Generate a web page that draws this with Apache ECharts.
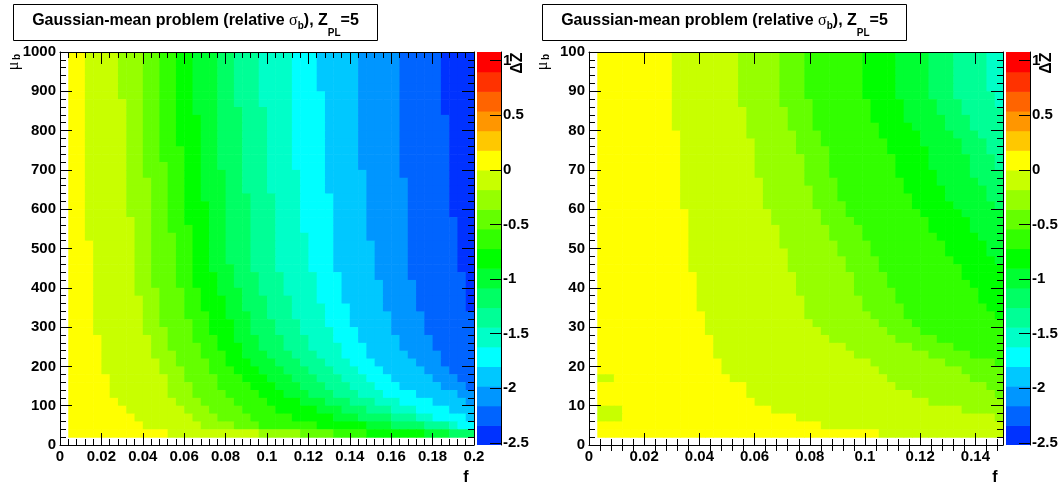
<!DOCTYPE html>
<html>
<head>
<meta charset="utf-8">
<script src="https://cdn.jsdelivr.net/npm/echarts@6/dist/echarts.min.js"></script>
<style>
html,body{margin:0;padding:0;background:#ffffff;}
#chart{width:1062px;height:488px;}
</style>
</head>
<body>
<div id="chart"></div>
<script>
// ---------------- data ----------------
const zMin = -2.52;
const zMax = 1.08;
const zStep = 0.18;
const zTickValues = [-2.5, -2, -1.5, -1, -0.5, 0, 0.5, 1];
const paletteColors = ['#0032ff','#0064ff','#0096ff','#00c8ff','#00ffff','#00ffc8','#00ff96','#00ff64','#00ff32','#00ff00',
                       '#32ff00','#64ff00','#96ff00','#c8ff00','#ffff00','#ffc800','#ff9600','#ff6400','#ff3200','#ff0000'];

const leftXBin = 0.004;   // f bin width, left panel
const leftYBin = 20;      // mu_b bin width, left panel
const rightXBin = 0.003;
const rightYBin = 2;
const nBins = 50;

const rightXTicks = [0, 0.02, 0.04, 0.06, 0.08, 0.1, 0.12, 0.14];
const rightXMinor = [0.004,0.008,0.012,0.016,0.024,0.028,0.032,0.036,0.044,0.048,0.052,0.056,0.064,0.068,0.072,0.076,
                     0.084,0.088,0.092,0.096,0.104,0.108,0.112,0.116,0.124,0.128,0.132,0.136,0.144,0.148];

// Each row (top row first, mu_b bin 49 down to bin 1) lists the f-bin index
// where the colour level drops to level 13, 12, 11, ... (level 14 = yellow at left).
const leftRows = [
"3,7,10,12,14,16,19,21,24,28,31,36,41,46",
"3,7,10,12,14,16,19,21,24,28,31,36,41,46",
"3,7,10,12,14,16,19,21,24,28,31,36,41,46",
"3,7,10,12,14,16,19,21,24,28,31,36,41,46",
"3,7,10,12,14,16,19,21,24,28,31,36,41,46",
"3,7,10,12,14,16,19,21,24,28,32,36,41,46",
"3,8,10,12,14,16,19,21,24,28,32,36,41,46",
"3,8,10,12,14,16,19,22,25,28,32,36,41,46",
"3,8,10,12,14,17,19,22,25,28,32,36,41,47",
"3,8,10,12,14,17,19,22,25,28,32,36,41,47",
"3,8,10,12,14,17,19,22,25,28,32,36,41,47",
"3,8,10,12,14,17,19,22,25,28,32,36,41,47",
"3,8,10,12,15,17,19,22,25,28,32,36,41,47",
"3,8,10,12,15,17,19,22,25,28,32,36,41,47",
"3,8,10,13,15,17,19,22,25,28,32,36,41,47",
"3,8,10,13,15,17,20,22,25,29,32,37,41,47",
"3,8,11,13,15,17,20,22,25,29,32,37,42,47",
"3,8,11,13,15,17,20,22,25,29,32,37,42,47",
"3,8,11,13,15,17,20,23,26,29,33,37,42,47",
"3,8,11,13,15,18,20,23,26,29,33,37,42,47",
"3,8,11,13,15,18,20,23,26,29,33,37,42,47",
"3,9,11,13,15,18,20,23,26,29,33,37,42,48",
"3,9,11,13,16,18,20,23,26,29,33,37,42,48",
"3,9,11,14,16,18,20,23,26,30,33,37,42,48",
"4,9,11,14,16,18,20,23,26,30,33,38,42,48",
"4,9,11,14,16,18,20,23,26,30,33,38,42,48",
"4,9,11,14,16,18,20,23,26,30,33,38,42,48",
"4,9,11,14,16,18,21,23,26,30,33,38,42,48",
"4,9,11,14,16,19,21,24,27,31,34,38,42,49",
"4,9,11,14,16,19,21,24,27,31,34,39,43,49",
"4,9,12,15,17,19,22,24,27,31,34,39,43,49",
"4,10,12,15,17,20,22,25,28,31,34,39,43,49",
"4,10,12,15,17,20,22,25,28,32,35,39,43,49",
"4,10,12,15,18,20,23,25,28,32,35,40,44",
"4,10,12,16,18,21,23,26,29,32,35,40,44",
"4,10,13,16,18,21,23,26,29,33,36,40,44",
"5,11,13,16,19,21,24,27,30,33,36,41,45",
"5,11,13,17,19,22,24,27,30,34,37,41,45",
"5,11,14,17,20,22,25,28,31,34,37,42,46",
"5,12,14,18,20,23,26,29,32,35,38,43,46",
"5,12,15,18,21,24,27,30,33,36,39,44,47",
"6,13,15,19,22,25,28,31,34,37,40,45,48",
"6,13,16,19,23,26,29,32,35,38,41,46,49",
"6,13,16,20,24,27,30,33,36,39,43,48",
"7,14,17,21,25,29,32,35,38,41,45,49",
"8,15,18,22,26,31,34,37,40,43,47",
"9,16,19,23,28,33,36,40,43,45,49",
"10,17,21,24,31,37,40,44,47,48",
"13,24,29,33,37,44,47"
];

const rightRows = [
"10,18,23,26,33,37,41,44,48",
"10,18,23,26,33,37,41,44,48",
"10,18,23,26,33,37,41,44,48",
"10,18,23,26,33,37,41,44,48",
"10,18,23,26,33,37,41,44,48",
"10,18,23,26,33,37,41,44,49",
"10,18,23,27,34,38,42,45,49",
"10,19,24,27,34,38,42,45",
"10,19,24,27,34,38,43,46",
"10,19,24,27,35,39,43,46",
"11,19,25,28,35,40,44,47",
"11,20,25,28,36,40,45,48",
"11,20,25,29,36,41,45,48",
"11,20,26,29,37,41,46,49",
"11,20,26,29,37,41,46,49",
"11,20,26,29,37,42,46",
"11,21,26,30,38,42,47",
"11,21,27,30,38,43,48",
"11,21,27,30,39,43,48",
"11,21,27,31,39,44,49",
"12,22,28,31,40,45",
"12,22,28,32,41,46",
"12,23,29,33,41,46",
"12,23,29,33,42,47",
"12,23,30,34,43,48",
"12,24,30,34,43,48",
"12,24,31,35,44,49",
"12,24,31,35,45",
"13,25,32,36,45",
"13,25,32,36,46",
"13,25,32,37,47",
"13,26,33,37,47",
"13,26,33,38,48",
"14,26,34,38,49",
"14,27,35,39",
"14,28,36,40",
"15,29,37,42",
"15,31,39,44",
"15,32,41,46",
"16,34,43,49",
"16,35,45",
"17,36,46",
"19,37,48",
"19,39,49",
"20,41",
"22,45",
"25,49",
"28",
"35"
];
// single cells that break the pattern: [f bin, mu_b bin, level]
const leftOddCells = [];
const rightOddCells = [[1,8,13],[2,8,13],[1,4,13],[2,4,13],[3,4,13],[1,3,13],[2,3,13],[3,3,13]];

// ---------------- build ----------------
function levelValue(k) { return zMin + zStep * (k + 0.5); }
function buildCells(rows, xBin, yBin, odd) {
  const cells = [];
  const nRows = rows.length;
  const lookup = {};
  odd.forEach(c => { lookup[c[0] + '_' + c[1]] = c[2]; });
  rows.forEach((str, r) => {
    const j = nRows - r;
    const starts = str.split(',').map(Number);
    for (let i = 1; i < nBins; i++) {
      let k = 14;
      starts.forEach(s => { if (s <= i) k--; });
      const key = i + '_' + j;
      if (key in lookup) k = lookup[key];
      cells.push([i * xBin, (i + 1) * xBin, j * yBin, (j + 1) * yBin, levelValue(k)]);
    }
  });
  return cells;
}
const leftCells = buildCells(leftRows, leftXBin, leftYBin, leftOddCells);
const rightCells = buildCells(rightRows, rightXBin, rightYBin, rightOddCells);
const barCells = paletteColors.map((c, k) => [0, 1, zMin + k * zStep, zMin + (k + 1) * zStep, levelValue(k)]);

function cellRender(params, api) {
  const x0 = api.value(0), x1 = api.value(1), y0 = api.value(2), y1 = api.value(3), v = api.value(4);
  const a = api.coord([x0, y1]);
  const b = api.coord([x1, y0]);
  let k = Math.floor((v - zMin) / zStep);
  k = Math.max(0, Math.min(paletteColors.length - 1, k));
  return {
    type: 'rect',
    shape: { x: a[0], y: a[1], width: b[0] - a[0] + 0.6, height: b[1] - a[1] + 0.6 },
    style: { fill: paletteColors[k] }
  };
}

const FONT = '"Liberation Sans", Arial, Helvetica, sans-serif';
const labelStyle = { color: '#000', fontFamily: FONT, fontWeight: 'bold', fontSize: 15, formatter: v => String(+(+v).toFixed(6)) };
const black = { color: '#000', width: 1 };

function valueAxis(extra) {
  return Object.assign({
    type: 'value', z: 10,
    axisLine: { show: true, onZero: false, lineStyle: black },
    splitLine: { show: false },
    axisTick: { show: true, inside: true, length: 12, lineStyle: black },
    minorTick: { show: true, splitNumber: 5, length: 6, lineStyle: black },
    axisLabel: Object.assign({ show: true, margin: 4 }, labelStyle)
  }, extra);
}
function hiddenLabels(a) { a.axisLabel = { show: false }; return a; }

const P = [
  { left: 60, top: 52, width: 414, height: 393 },
  { left: 589, top: 52, width: 414, height: 393 }
];
const BAR = [
  { left: 477, top: 52, width: 24, height: 393 },
  { left: 1006, top: 52, width: 24, height: 393 }
];

const xAxes = [];
const yAxes = [];
xAxes.push(valueAxis({ gridIndex: 0, position: 'bottom', min: 0, max: 0.2, interval: 0.02 }));
xAxes.push(hiddenLabels(valueAxis({ gridIndex: 0, position: 'top', min: 0, max: 0.2, interval: 0.02 })));
yAxes.push(valueAxis({ gridIndex: 0, position: 'left', min: 0, max: 1000, interval: 100 }));
yAxes.push(hiddenLabels(valueAxis({ gridIndex: 0, position: 'right', min: 0, max: 1000, interval: 100 })));
const rxMajor = (pos, labels) => {
  const a = valueAxis({ gridIndex: 1, position: pos, min: 0, max: 0.15, interval: 0.02 });
  a.axisTick.customValues = rightXTicks;
  a.minorTick = { show: false };
  if (labels) a.axisLabel.customValues = rightXTicks; else a.axisLabel = { show: false };
  return a;
};
const rxMinor = (pos) => ({
  type: 'value', gridIndex: 1, position: pos, min: 0, max: 0.15, z: 10,
  axisLine: { show: false }, splitLine: { show: false }, axisLabel: { show: false },
  axisTick: { show: true, inside: true, length: 6, lineStyle: black, customValues: rightXMinor }
});
xAxes.push(rxMajor('bottom', true));
xAxes.push(rxMinor('bottom'));
xAxes.push(rxMajor('top', false));
xAxes.push(rxMinor('top'));
yAxes.push(valueAxis({ gridIndex: 1, position: 'left', min: 0, max: 100, interval: 10 }));
yAxes.push(hiddenLabels(valueAxis({ gridIndex: 1, position: 'right', min: 0, max: 100, interval: 10 })));
[2, 3].forEach(g => {
  xAxes.push({ type: 'value', gridIndex: g, min: 0, max: 1, show: false });
  yAxes.push({
    type: 'value', gridIndex: g, position: 'right', min: zMin, max: zMax, z: 10,
    axisLine: { show: true, onZero: false, lineStyle: black },
    splitLine: { show: false },
    axisTick: { show: true, inside: true, length: 11, lineStyle: black, customValues: zTickValues },
    axisLabel: Object.assign({ show: true, margin: 2, customValues: zTickValues }, labelStyle)
  });
});

// ---------------- text graphics ----------------
const measureCtx = document.createElement('canvas').getContext('2d');
function tw(str, font) { measureCtx.font = font; return measureCtx.measureText(str).width; }
function fontStr(p) { return (p.weight || 'bold') + ' ' + p.size + 'px ' + (p.family || FONT); }

function richLine(pieces, cx, baseY) {
  const widths = pieces.map(p => tw(p.t, fontStr(p)));
  const total = widths.reduce((a, b) => a + b, 0);
  let x = -total / 2;
  const out = [];
  pieces.forEach((p, i) => {
    const mid = baseY + (p.dy || 0) - 0.3465 * p.size;
    out.push({ type: 'text', z: 100, x: cx + x, y: mid,
      style: { text: p.t, fill: '#000', font: fontStr(p), align: 'left', verticalAlign: 'middle' } });
    x += widths[i];
  });
  return out;
}

const titlePieces = [
  { t: 'Gaussian-mean problem (relative ', size: 16 },
  { t: 'σ', size: 16, weight: 'normal', family: '"Liberation Serif", "DejaVu Serif", serif' },
  { t: 'b', size: 10, dy: 3.4 },
  { t: '), Z', size: 16 },
  { t: 'PL', size: 10, dy: 10.3 },
  { t: '=5', size: 16 }
];

const graphics = [];
[0, 529].forEach(off => {
  graphics.push({ type: 'rect', z: 90, shape: { x: 13.5 + off, y: 4.5, width: 364, height: 36 },
                  style: { fill: '#fff', stroke: '#000', lineWidth: 1 } });
  richLine(titlePieces, 195.5 + off, 26).forEach(g => graphics.push(g));
  graphics.push({ type: 'text', z: 100, x: 466 + off, y: 478,
                  style: { text: 'f', fill: '#000', font: 'bold 16px ' + FONT, align: 'center', verticalAlign: 'middle' } });
  graphics.push({ type: 'text', z: 100, x: 518 + off, y: 63, rotation: Math.PI / 2,
                  style: { text: 'ΔZ', fill: '#000', font: 'bold 16px ' + FONT, align: 'center', verticalAlign: 'middle' } });
  graphics.push({ type: 'text', z: 100, x: 14 + off, y: 66, rotation: Math.PI / 2,
                  style: { text: 'μ', fill: '#000', font: 'normal 16px "Liberation Serif", "DejaVu Serif", serif', align: 'center', verticalAlign: 'middle' } });
  graphics.push({ type: 'text', z: 100, x: 17.5 + off, y: 57, rotation: Math.PI / 2,
                  style: { text: 'b', fill: '#000', font: 'bold 10px ' + FONT, align: 'center', verticalAlign: 'middle' } });
});

const chart = echarts.init(document.getElementById('chart'), null, { renderer: 'canvas' });
chart.setOption({
  animation: false,
  backgroundColor: '#ffffff',
  grid: [P[0], P[1], BAR[0], BAR[1]].map(g => Object.assign({ containLabel: false, show: false }, g)),
  xAxis: xAxes,
  yAxis: yAxes,
  series: [
    { type: 'custom', xAxisIndex: 0, yAxisIndex: 0, renderItem: cellRender, data: leftCells, clip: true,
      encode: { x: [0, 1], y: [2, 3] }, silent: true },
    { type: 'custom', xAxisIndex: 2, yAxisIndex: 2, renderItem: cellRender, data: rightCells, clip: true,
      encode: { x: [0, 1], y: [2, 3] }, silent: true },
    { type: 'custom', xAxisIndex: 6, yAxisIndex: 4, renderItem: cellRender, data: barCells, clip: true,
      encode: { x: [0, 1], y: [2, 3] }, silent: true },
    { type: 'custom', xAxisIndex: 7, yAxisIndex: 5, renderItem: cellRender, data: barCells, clip: true,
      encode: { x: [0, 1], y: [2, 3] }, silent: true }
  ],
  graphic: graphics
});
</script>
</body>
</html>
